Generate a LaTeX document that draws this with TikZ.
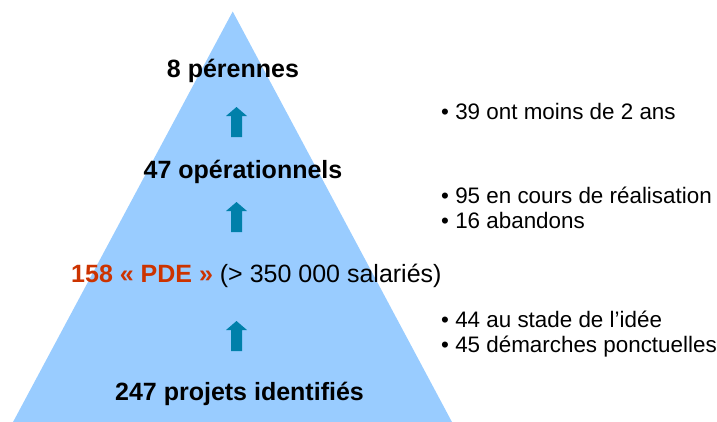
\documentclass[tikz,border=0pt]{standalone}
\usepackage{fontspec}
\setmainfont{Liberation Sans}
\definecolor{pyrblue}{RGB}{153,204,255}
\definecolor{arrowteal}{RGB}{0,128,170}
\definecolor{pdered}{RGB}{204,51,0}
\tikzset{
  lvl/.style={inner sep=0pt, anchor=base, font=\fontsize{25}{30}\selectfont\bfseries, text=black},
  note/.style={inner sep=0pt, anchor=base west, font=\fontsize{22.4}{26}\selectfont, text=black},
  uparrow/.style={fill=arrowteal, draw=none}
}
\begin{document}
\begin{tikzpicture}[x=1pt,y=-1pt]
\useasboundingbox (0,0) rectangle (717,421);
% pyramid
\fill[pyrblue] (232.7,11.5) -- (452.5,423) -- (12.5,423) -- cycle;
% level labels
\node[lvl] (l4) at (233,77) {8 pérennes};
\node[lvl] (l3) at (243,178) {47 opérationnels};
\node[lvl, anchor=base west] (l2) at (71,282) {\textcolor{pdered}{158 « PDE »} \mdseries(> 350 000 salariés)};
\node[lvl] (l1) at (239.5,400) {247 projets identifiés};
% arrows
\foreach \t in {107,202,321}{
  \fill[uparrow] (236.5,\t) -- (247,\t+9) -- (242,\t+9) -- (242,\t+30)
     -- (231,\t+30) -- (231,\t+9) -- (226,\t+9) -- cycle;
}
% notes
\node[note] (n1) at (441,119) {• 39 ont moins de 2 ans};
\node[note] (n2) at (441,203) {• 95 en cours de réalisation};
\node[note] (n3) at (441,228) {• 16 abandons};
\node[note] (n4) at (441,327) {• 44 au stade de l’idée};
\node[note] (n5) at (441,352) {• 45 démarches ponctuelles};
\end{tikzpicture}
\end{document}
